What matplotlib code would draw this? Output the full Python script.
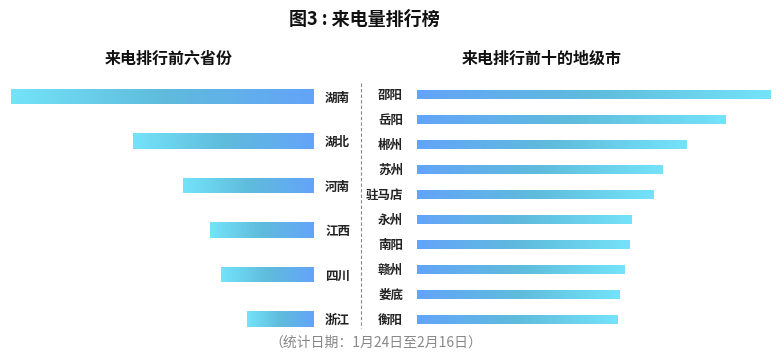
import numpy as np
import matplotlib
matplotlib.use('Agg')
import matplotlib.pyplot as plt
from matplotlib.colors import LinearSegmentedColormap
from matplotlib.lines import Line2D

plt.rcParams['font.family'] = ['Noto Sans CJK SC', 'DejaVu Sans']

# data (relative call volume)
provinces = ['湖南', '湖北', '河南', '江西', '四川', '浙江']
province_vals = [303, 181, 131, 104, 93, 67]

cities = ['邵阳', '岳阳', '郴州', '苏州', '驻马店', '永州', '南阳', '赣州', '娄底', '衡阳']
city_vals = [354, 309, 270, 246, 237, 215, 213, 208, 203, 201]

cmap = LinearSegmentedColormap.from_list('bar', ['#63a4f9', '#5fbcdc', '#74e3f9'])
grad = np.linspace(0, 1, 256).reshape(1, -1)


def gradient_bars(ax, labels, vals, height):
    bars = ax.barh(range(len(vals)), vals, height=height, color='none', edgecolor='none')
    for b in bars:
        x0, y0 = b.get_x(), b.get_y()
        im = ax.imshow(grad, cmap=cmap, aspect='auto',
                       extent=(x0, x0 + b.get_width(), y0, y0 + b.get_height()))
        im.set_clip_path(b)
    ax.set_yticks(range(len(labels)))
    ax.set_yticklabels(labels, fontsize=9, fontweight='bold', color='#222222')
    for s in ax.spines.values():
        s.set_visible(False)
    ax.set_xticks([])
    ax.tick_params(axis='y', length=0)


fig = plt.figure(figsize=(7.83, 3.56), dpi=100)

ax1 = fig.add_axes([0, 0.0414, 314 / 783, 0.75])
gradient_bars(ax1, provinces, province_vals, 0.34)
ax1.set_xlim(314, 0)
ax1.set_ylim(5.5, -0.5)
ax1.yaxis.tick_right()
ax1.tick_params(axis='y', pad=8)

ax2 = fig.add_axes([417 / 783, 0.068, 366 / 783, 0.7022])
gradient_bars(ax2, cities, city_vals, 0.36)
ax2.set_xlim(0, 366)
ax2.set_ylim(9.5, -0.5)
ax2.tick_params(axis='y', pad=10)

fig.add_artist(Line2D([361 / 783, 361 / 783], [1 - 83 / 356, 1 - 328 / 356],
                      transform=fig.transFigure, color='#888888', lw=0.8, ls=(0, (3, 2))))

fig.text(364 / 783, 1 - 19 / 356, '图3 : 来电量排行榜', ha='center', va='center',
         fontsize=13, fontweight='bold', color='#111111')
fig.text(169 / 783, 1 - 59 / 356, '来电排行前六省份', ha='center', va='center',
         fontsize=11.5, fontweight='bold', color='#111111')
fig.text(542 / 783, 1 - 59 / 356, '来电排行前十的地级市', ha='center', va='center',
         fontsize=11.5, fontweight='bold', color='#111111')
fig.text(376 / 783, 1 - 343 / 356, '（统计日期：1月24日至2月16日）', ha='center', va='center',
         fontsize=10, color='#888888')

fig.savefig('out.png', dpi=100)
